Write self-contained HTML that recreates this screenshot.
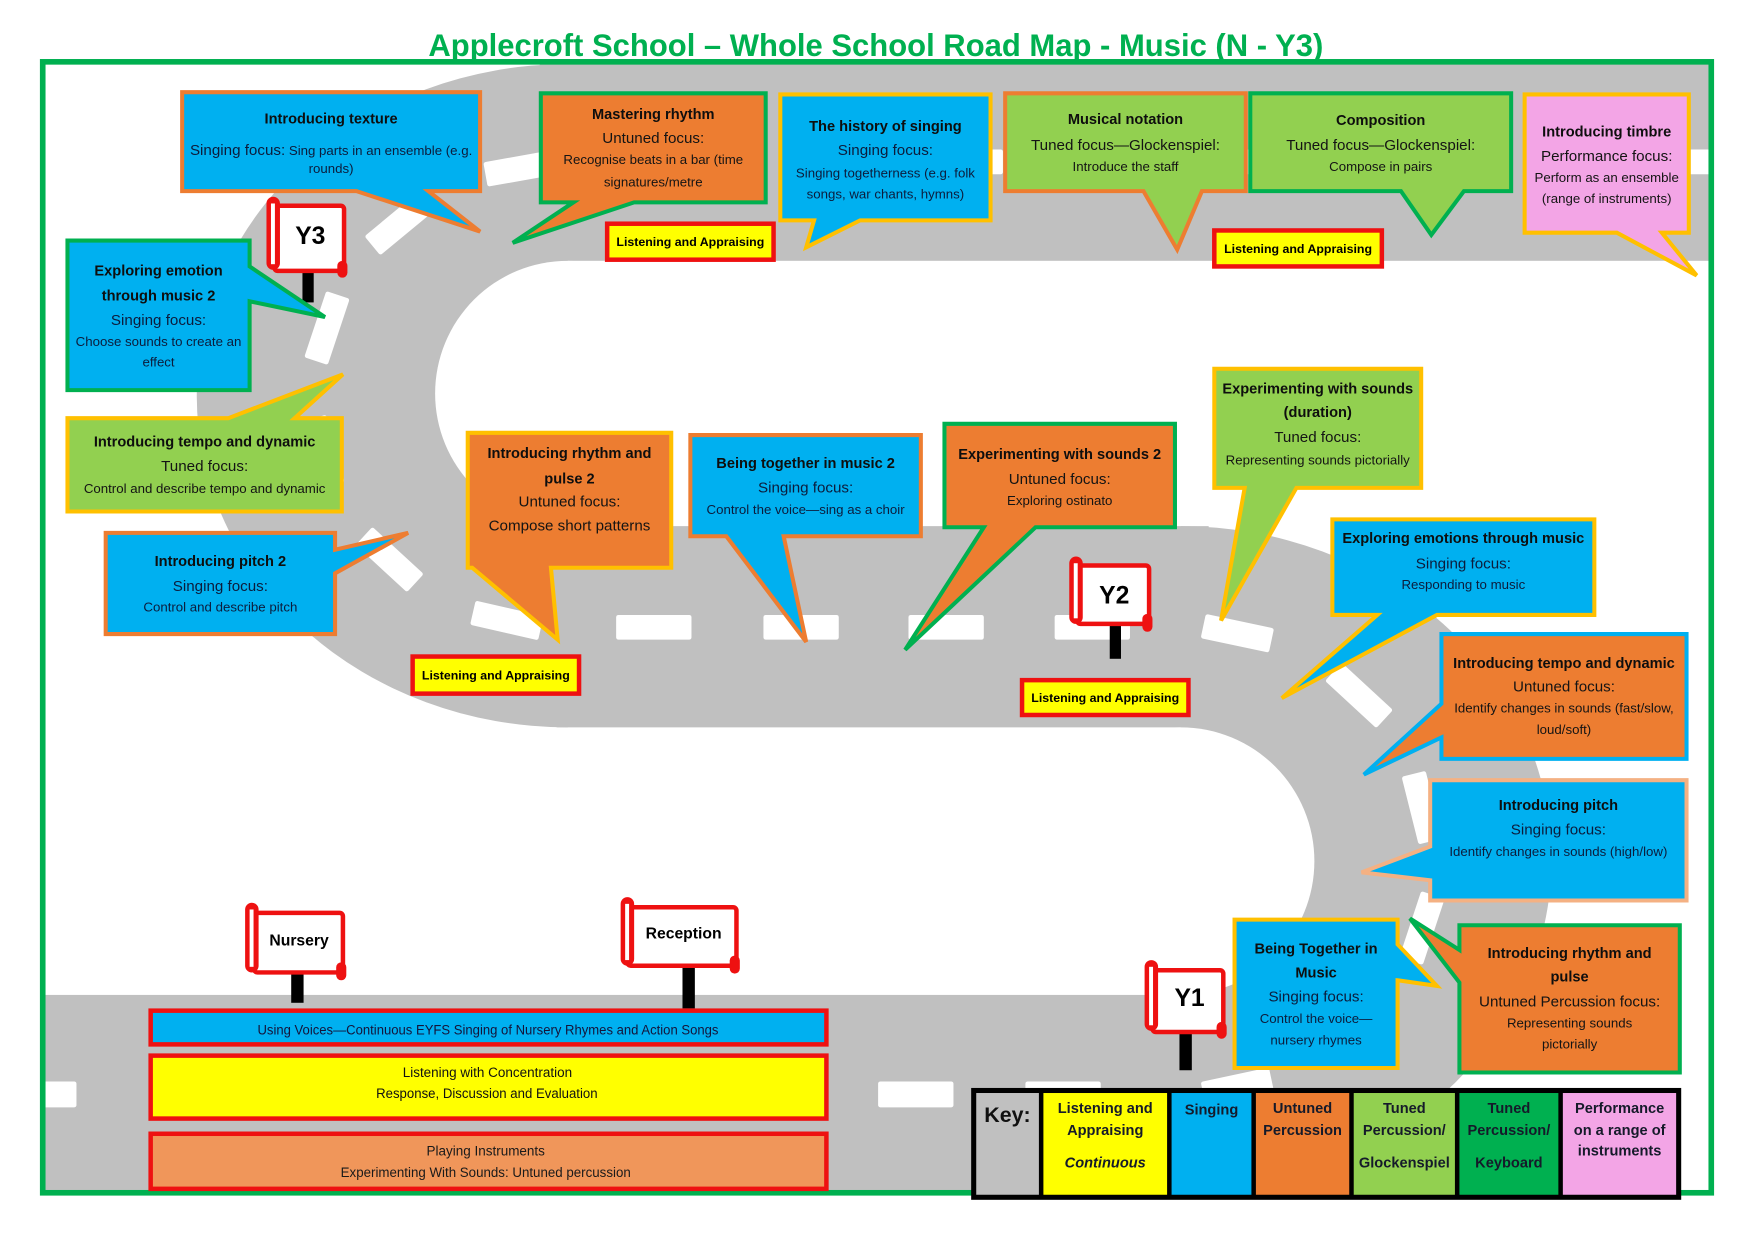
<!DOCTYPE html>
<html>
<head>
<meta charset="utf-8">
<style>
html,body{margin:0;padding:0;background:#fff;width:1754px;height:1240px;overflow:hidden}
svg{display:block}
text{font-family:"Liberation Sans",Arial,sans-serif;text-anchor:middle;fill:#141414}
.b{font-weight:bold;font-size:13px;fill:#0e0e0e}
.f{font-size:13.5px}
.d{font-size:11.8px}
.bl{fill:#0c1c3c}
.la{font-weight:bold;font-size:11px;fill:#000}
.k{font-weight:bold;font-size:13px;fill:#151a2a}
.sg{font-weight:bold;fill:#000}
.e{font-size:12px;fill:#14143a}
</style>
</head>
<body>
<svg xmlns="http://www.w3.org/2000/svg" width="1754" height="1240" viewBox="0 0 1560 1103" preserveAspectRatio="none">
<rect width="1560" height="1103" fill="#fff"/>
<defs>
<clipPath id="fr"><rect x="38" y="55" width="1484" height="1006"/></clipPath>
</defs>

<!-- ROAD -->
<g clip-path="url(#fr)">
  <g fill="#c0c0c0">
    <rect x="480" y="40" width="1125" height="192"/>
    <path d="M505 57 A330 295 0 0 0 505 647 Z"/>
    <rect x="495" y="468" width="580" height="179"/>
    <path d="M1050 468 A330 296 0 0 1 1050 1060 Z"/>
    <rect x="0" y="885" width="1075" height="190"/>
  </g>
  <circle cx="505" cy="350" r="118" fill="#fff"/>
  <circle cx="1050" cy="766" r="119" fill="#fff"/>

  <!-- dashes straight -->
  <g fill="#fff">
    <rect x="825" y="133" width="67" height="22" rx="2"/>
    <rect x="955" y="133" width="67" height="22" rx="2"/>
    <rect x="1085" y="133" width="67" height="22" rx="2"/>
    <rect x="1215" y="133" width="67" height="22" rx="2"/>
    <rect x="1475" y="133" width="67" height="22" rx="2"/>
    <rect x="548" y="547" width="67" height="22" rx="2"/>
    <rect x="679" y="547" width="67" height="22" rx="2"/>
    <rect x="808" y="547" width="67" height="22" rx="2"/>
    <rect x="938" y="547" width="67" height="22" rx="2"/>
    <rect x="1" y="962" width="67" height="23" rx="2"/>
    <rect x="136" y="962" width="67" height="23" rx="2"/>
    <rect x="262" y="962" width="67" height="23" rx="2"/>
    <rect x="392" y="962" width="67" height="23" rx="2"/>
    <rect x="521" y="962" width="67" height="23" rx="2"/>
    <rect x="651" y="962" width="67" height="23" rx="2"/>
    <rect x="781" y="962" width="67" height="23" rx="2"/>
    <rect x="912" y="962" width="67" height="23" rx="2"/>
    <!-- curve dashes -->
    <rect x="-31" y="-11" width="62" height="22" rx="2" transform="translate(462.3 149.8) rotate(-10.1)"/>
    <rect x="-31" y="-11" width="62" height="22" rx="2" transform="translate(355.1 198.9) rotate(-39.6)"/>
    <rect x="-31" y="-11" width="62" height="22" rx="2" transform="translate(290.8 291.8) rotate(-71.6)"/>
    <rect x="-31" y="-11" width="62" height="22" rx="2" transform="translate(287.7 401.8) rotate(74.8)"/>
    <rect x="-31" y="-11" width="62" height="22" rx="2" transform="translate(346.6 497.7) rotate(42.6)"/>
    <rect x="-31" y="-11" width="62" height="22" rx="2" transform="translate(450.8 551.9) rotate(12.9)"/>
    <rect x="-31" y="-11" width="62" height="22" rx="2" transform="translate(1100.5 563.3) rotate(12)"/>
    <rect x="-31" y="-11" width="62" height="22" rx="2" transform="translate(1208.7 618.6) rotate(42.7)"/>
    <rect x="-31" y="-11" width="62" height="22" rx="2" transform="translate(1264.8 718.4) rotate(75.9)"/>
    <rect x="-31" y="-11" width="62" height="22" rx="2" transform="translate(1264.7 825.5) rotate(108.3)"/>
    <rect x="-31" y="-11" width="62" height="22" rx="2" transform="translate(1203.1 916.4) rotate(139.3)"/>
    <rect x="-31" y="-11" width="62" height="22" rx="2" transform="translate(1100.5 966.7) rotate(168)"/>
  </g>
</g>

<!-- FRAME -->
<rect x="38" y="55" width="1484" height="1006" fill="none" stroke="#00B050" stroke-width="5"/>

<!-- TITLE -->
<text x="779" y="50" textLength="796" lengthAdjust="spacingAndGlyphs" style="font-size:28px;font-weight:bold;fill:#00B050">Applecroft School – Whole School Road Map - Music (N - Y3)</text>

<!-- SIGN POSTS -->
<g fill="#000">
  <rect x="269" y="239" width="10" height="30"/>
  <rect x="987" y="553" width="10" height="33"/>
  <rect x="1049" y="916" width="11" height="36"/>
  <rect x="259" y="863" width="11" height="29"/>
  <rect x="607" y="857" width="11" height="40"/>
</g>

<!-- SIGNS -->
<g>
  <!-- Y3 -->
  <rect x="244" y="183" width="62" height="58" rx="3" fill="#fff" stroke="#EE1111" stroke-width="4"/>
  <rect x="237" y="175" width="12" height="65" rx="6" fill="#EE1111"/>
  <rect x="241" y="181" width="3.5" height="54" fill="#fff"/>
  <rect x="300" y="232" width="9" height="15" rx="4.5" fill="#EE1111"/>
  <text x="276" y="217" class="sg" style="font-size:22px">Y3</text>
  <!-- Y2 -->
  <rect x="958" y="503" width="64" height="52" rx="3" fill="#fff" stroke="#EE1111" stroke-width="4"/>
  <rect x="951" y="495" width="12" height="60" rx="6" fill="#EE1111"/>
  <rect x="955" y="501" width="3.5" height="49" fill="#fff"/>
  <rect x="1016" y="546" width="9" height="16" rx="4.5" fill="#EE1111"/>
  <text x="991" y="537" class="sg" style="font-size:22px">Y2</text>
  <!-- Y1 -->
  <rect x="1025" y="863" width="63" height="55" rx="3" fill="#fff" stroke="#EE1111" stroke-width="4"/>
  <rect x="1018" y="854" width="12" height="63" rx="6" fill="#EE1111"/>
  <rect x="1022" y="860" width="3.5" height="52" fill="#fff"/>
  <rect x="1082" y="909" width="9" height="15" rx="4.5" fill="#EE1111"/>
  <text x="1058" y="895" class="sg" style="font-size:22px">Y1</text>
  <!-- Nursery -->
  <rect x="226" y="812" width="79" height="53" rx="3" fill="#fff" stroke="#EE1111" stroke-width="4"/>
  <rect x="218" y="803" width="12" height="62" rx="6" fill="#EE1111"/>
  <rect x="222" y="809" width="3.5" height="51" fill="#fff"/>
  <rect x="299" y="856" width="9" height="16" rx="4.5" fill="#EE1111"/>
  <text x="266" y="841" class="sg" style="font-size:14px">Nursery</text>
  <!-- Reception -->
  <rect x="558" y="807" width="97" height="52" rx="3" fill="#fff" stroke="#EE1111" stroke-width="4"/>
  <rect x="552" y="798" width="12" height="61" rx="6" fill="#EE1111"/>
  <rect x="556" y="804" width="3.5" height="50" fill="#fff"/>
  <rect x="649" y="850" width="9" height="16" rx="4.5" fill="#EE1111"/>
  <text x="608" y="835" class="sg" style="font-size:14px">Reception</text>
</g>

<!-- EYFS BOXES -->
<rect x="134" y="899" width="601" height="30" fill="#00B0F0" stroke="#EE1111" stroke-width="4"/>
<rect x="134" y="939" width="601" height="56" fill="#FFFF00" stroke="#EE1111" stroke-width="4"/>
<rect x="134" y="1008.5" width="601" height="49" fill="#F0965A" stroke="#EE1111" stroke-width="4"/>
<text x="434" y="920" class="e" textLength="410" lengthAdjust="spacingAndGlyphs">Using Voices—Continuous EYFS Singing of Nursery Rhymes and Action Songs</text>
<text x="433.5" y="958" class="e" style="fill:#111">Listening with Concentration</text>
<text x="433" y="976.5" class="e" style="fill:#111" textLength="197" lengthAdjust="spacingAndGlyphs">Response, Discussion and Evaluation</text>
<text x="432" y="1028" class="e" style="fill:#1a1a1a">Playing Instruments</text>
<text x="432" y="1047" class="e" style="fill:#1a1a1a" textLength="258" lengthAdjust="spacingAndGlyphs">Experimenting With Sounds: Untuned percussion</text>

<!-- CALLOUTS -->
<g stroke-width="3.6" stroke-linejoin="miter">
  <path d="M162 82 H427 V170 H381 L427 206 L317 170 H162 Z" fill="#00B0F0" stroke="#ED7D31"/>
  <path d="M481 83 H681 V180 H564 L456 216 L510 180 H481 Z" fill="#ED7D31" stroke="#00B050"/>
  <path d="M694 84 H881 V196 H765 L717 220 L724 196 H694 Z" fill="#00B0F0" stroke="#FFC000"/>
  <path d="M894 83 H1108 V170 H1069 L1047 222 L1017 170 H894 Z" fill="#92D050" stroke="#ED7D31"/>
  <path d="M1112 83 H1344 V170 H1302 L1273 209 L1246 170 H1112 Z" fill="#92D050" stroke="#00B050"/>
  <path d="M1356 84 H1502 V207 H1478 L1509 245 L1438 207 H1356 Z" fill="#F3A5E6" stroke="#FFC000"/>
  <path d="M60 214 H222 V237 L289 282 L222 268 V347 H60 Z" fill="#00B0F0" stroke="#00B050"/>
  <path d="M60 372 H203 L305 333 L262 372 H304 V455 H60 Z" fill="#92D050" stroke="#FFC000"/>
  <path d="M94 474 H298 V489 L363 474 L298 510 V564 H94 Z" fill="#00B0F0" stroke="#ED7D31"/>
  <path d="M416 385 H597 V505 H490 L496 569 L420 505 H416 Z" fill="#ED7D31" stroke="#FFC000"/>
  <path d="M614 387 H819 V477 H697 L717 571 L646 477 H614 Z" fill="#00B0F0" stroke="#ED7D31"/>
  <path d="M840 377 H1045 V469 H921 L805 578 L875 469 H840 Z" fill="#ED7D31" stroke="#00B050"/>
  <path d="M1080 328 H1264 V434 H1153 L1086 552 L1107 434 H1080 Z" fill="#92D050" stroke="#FFC000"/>
  <path d="M1185 462 H1418 V547 H1278 L1140 621 L1225 547 H1185 Z" fill="#00B0F0" stroke="#FFC000"/>
  <path d="M1282 564 H1500 V675 H1282 V656 L1213 689 L1282 626 Z" fill="#ED7D31" stroke="#00B0F0"/>
  <path d="M1272 694 H1500 V801 H1272 V783 L1211 776 L1272 753 Z" fill="#00B0F0" stroke="#F4B183"/>
  <path d="M1098 818 H1243 V840 L1278 877 L1243 872 V950 H1098 Z" fill="#00B0F0" stroke="#FFC000"/>
  <path d="M1298 823 H1494 V954 H1298 V874 L1254 817 L1298 845 Z" fill="#ED7D31" stroke="#00B050"/>
</g>

<!-- CALLOUT TEXT -->
<text x="294.5" y="110" class="b">Introducing texture</text>
<text x="294.5" y="138" class="bl"><tspan class="f">Singing focus:</tspan><tspan class="d"> Sing parts in an ensemble (e.g.</tspan></text>
<text x="294.5" y="154" class="d bl">rounds)</text>

<text x="581" y="106" class="b">Mastering rhythm</text>
<text x="581" y="127" class="f">Untuned focus:</text>
<text x="581" y="146" class="d">Recognise beats in a bar (time</text>
<text x="581" y="166" class="d">signatures/metre</text>

<text x="787.5" y="116.5" class="b">The history of singing</text>
<text x="787.5" y="138" class="f bl">Singing focus:</text>
<text x="787.5" y="158" class="d bl">Singing togetherness (e.g. folk</text>
<text x="787.5" y="176.5" class="d bl">songs, war chants, hymns)</text>

<text x="1001" y="110.5" class="b">Musical notation</text>
<text x="1001" y="133.5" class="f">Tuned focus—Glockenspiel:</text>
<text x="1001" y="152" class="d">Introduce the staff</text>

<text x="1228" y="111" class="b">Composition</text>
<text x="1228" y="133.5" class="f">Tuned focus—Glockenspiel:</text>
<text x="1228" y="152" class="d">Compose in pairs</text>

<text x="1429" y="121.5" class="b">Introducing timbre</text>
<text x="1429" y="143" class="f">Performance focus:</text>
<text x="1429" y="162" class="d">Perform as an ensemble</text>
<text x="1429" y="180.5" class="d">(range of instruments)</text>

<text x="141" y="245" class="b">Exploring emotion</text>
<text x="141" y="267.5" class="b">through music 2</text>
<text x="141" y="289" class="f bl">Singing focus:</text>
<text x="141" y="308" class="d bl">Choose sounds to create an</text>
<text x="141" y="326" class="d bl">effect</text>

<text x="182" y="397" class="b">Introducing tempo and dynamic</text>
<text x="182" y="419" class="f">Tuned focus:</text>
<text x="182" y="438.5" class="d">Control and describe tempo and dynamic</text>

<text x="196" y="503.5" class="b">Introducing pitch 2</text>
<text x="196" y="525.5" class="f bl">Singing focus:</text>
<text x="196" y="544" class="d bl">Control and describe pitch</text>

<text x="506.5" y="407.5" class="b">Introducing rhythm and</text>
<text x="506.5" y="430" class="b">pulse 2</text>
<text x="506.5" y="450.5" class="f">Untuned focus:</text>
<text x="506.5" y="472" class="f">Compose short patterns</text>

<text x="716.5" y="416.5" class="b">Being together in music 2</text>
<text x="716.5" y="438" class="f bl">Singing focus:</text>
<text x="716.5" y="457" class="d bl">Control the voice—sing as a choir</text>

<text x="942.5" y="408.5" class="b">Experimenting with sounds 2</text>
<text x="942.5" y="430.5" class="f">Untuned focus:</text>
<text x="942.5" y="449" class="d">Exploring ostinato</text>

<text x="1172" y="350" class="b">Experimenting with sounds</text>
<text x="1172" y="371" class="b">(duration)</text>
<text x="1172" y="393" class="f">Tuned focus:</text>
<text x="1172" y="413" class="d">Representing sounds pictorially</text>

<text x="1301.5" y="483" class="b">Exploring emotions through music</text>
<text x="1301.5" y="505.5" class="f bl">Singing  focus:</text>
<text x="1301.5" y="524" class="d bl">Responding to music</text>

<text x="1391" y="594" class="b">Introducing tempo and dynamic</text>
<text x="1391" y="615" class="f">Untuned focus:</text>
<text x="1391" y="634" class="d">Identify changes in sounds (fast/slow,</text>
<text x="1391" y="653" class="d">loud/soft)</text>

<text x="1386" y="720.5" class="b">Introducing pitch</text>
<text x="1386" y="742.5" class="f bl">Singing  focus:</text>
<text x="1386" y="761.5" class="d bl">Identify changes in sounds (high/low)</text>

<text x="1170.5" y="848" class="b">Being Together in</text>
<text x="1170.5" y="869.5" class="b">Music</text>
<text x="1170.5" y="891" class="f bl">Singing  focus:</text>
<text x="1170.5" y="910" class="d bl">Control the voice—</text>
<text x="1170.5" y="929" class="d bl">nursery rhymes</text>

<text x="1396" y="852" class="b">Introducing rhythm and</text>
<text x="1396" y="873" class="b">pulse</text>
<text x="1396" y="895.5" class="f">Untuned Percussion focus:</text>
<text x="1396" y="914" class="d">Representing sounds</text>
<text x="1396" y="932.5" class="d">pictorially</text>

<!-- LISTENING AND APPRAISING -->
<g fill="#FFFF00" stroke="#EE1111" stroke-width="4">
  <rect x="540" y="199" width="148" height="32"/>
  <rect x="1080" y="205" width="149" height="32"/>
  <rect x="367" y="584" width="148" height="33"/>
  <rect x="909" y="605" width="148" height="31"/>
</g>
<text x="614" y="219" class="la">Listening and Appraising</text>
<text x="1154.5" y="225" class="la">Listening and Appraising</text>
<text x="441" y="604.5" class="la">Listening and Appraising</text>
<text x="983" y="624.5" class="la">Listening and Appraising</text>

<!-- KEY -->
<g>
  <rect x="866" y="970" width="60" height="95" fill="#c0c0c0"/>
  <rect x="926" y="970" width="114" height="95" fill="#FFFF00"/>
  <rect x="1040" y="970" width="75" height="95" fill="#00B0F0"/>
  <rect x="1115" y="970" width="87" height="95" fill="#ED7D31"/>
  <rect x="1202" y="970" width="94" height="95" fill="#92D050"/>
  <rect x="1296" y="970" width="92" height="95" fill="#00B050"/>
  <rect x="1388" y="970" width="105" height="95" fill="#F3A5E6"/>
  <g stroke="#000" stroke-width="4">
    <line x1="926" y1="970" x2="926" y2="1065"/>
    <line x1="1040" y1="970" x2="1040" y2="1065"/>
    <line x1="1115" y1="970" x2="1115" y2="1065"/>
    <line x1="1202" y1="970" x2="1202" y2="1065"/>
    <line x1="1296" y1="970" x2="1296" y2="1065"/>
    <line x1="1388" y1="970" x2="1388" y2="1065"/>
  </g>
  <rect x="866" y="970" width="627" height="95" fill="none" stroke="#000" stroke-width="4.5"/>
</g>
<text x="896" y="998" style="font-size:19px;font-weight:bold;fill:#111">Key:</text>
<text x="983" y="990" class="k">Listening and</text>
<text x="983" y="1009.5" class="k">Appraising</text>
<text x="983" y="1038.5" class="k" style="font-style:italic">Continuous</text>
<text x="1077.5" y="991.5" class="k">Singing</text>
<text x="1158.5" y="990" class="k">Untuned</text>
<text x="1158.5" y="1009.5" class="k">Percussion</text>
<text x="1249" y="990" class="k">Tuned</text>
<text x="1249" y="1009.5" class="k">Percussion/</text>
<text x="1249" y="1038.5" class="k">Glockenspiel</text>
<text x="1342" y="990" class="k">Tuned</text>
<text x="1342" y="1009.5" class="k">Percussion/</text>
<text x="1342" y="1038.5" class="k">Keyboard</text>
<text x="1440.5" y="990" class="k">Performance</text>
<text x="1440.5" y="1009.5" class="k">on a range of</text>
<text x="1440.5" y="1028" class="k">instruments</text>
</svg>
</body>
</html>
